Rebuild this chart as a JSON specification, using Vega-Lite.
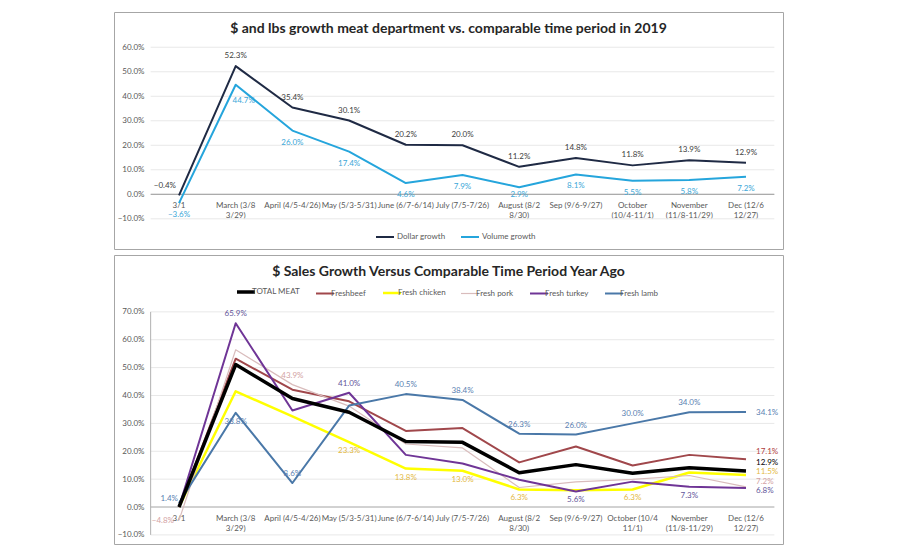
{
  "$schema": "https://vega.github.io/schema/vega-lite/v6.json",
  "background": "white",
  "padding": {"left": 113, "top": 11, "right": 0, "bottom": 0},
  "spacing": 4,
  "resolve": {
    "scale": {"x": "independent", "y": "independent", "color": "independent", "fill": "independent"},
    "legend": {"color": "independent"}
  },
  "config": {
    "font": "Lato",
    "view": {"stroke": "#a6a6a6", "strokeWidth": 1},
    "axis": {"labelFont": "Lato", "labelFontSize": 8, "labelColor": "#595959", "domain": false, "ticks": false, "tickSize": 0, "grid": false, "minExtent": 0, "labelOverlap": false},
    "legend": {"labelFont": "Lato", "labelFontSize": 8, "labelColor": "#595959", "padding": 0},
    "text": {"font": "Lato", "fontSize": 8, "baseline": "middle"}
  },
  "datasets": {
    "gridTop": [{"v": -0.1}, {"v": 0}, {"v": 0.1}, {"v": 0.2}, {"v": 0.3}, {"v": 0.4}, {"v": 0.5}, {"v": 0.6}],
    "gridBottom": [{"v": -0.1}, {"v": 0}, {"v": 0.1}, {"v": 0.2}, {"v": 0.3}, {"v": 0.4}, {"v": 0.5}, {"v": 0.6}, {"v": 0.7}],
    "growth": [
      {"period": "3/1", "series": "Dollar growth", "value": -0.004},
      {"period": "March (3/8-3/29)", "series": "Dollar growth", "value": 0.523},
      {"period": "April (4/5-4/26)", "series": "Dollar growth", "value": 0.354},
      {"period": "May (5/3-5/31)", "series": "Dollar growth", "value": 0.301},
      {"period": "June (6/7-6/14)", "series": "Dollar growth", "value": 0.202},
      {"period": "July (7/5-7/26)", "series": "Dollar growth", "value": 0.200},
      {"period": "August (8/2-8/30)", "series": "Dollar growth", "value": 0.112},
      {"period": "Sep (9/6-9/27)", "series": "Dollar growth", "value": 0.148},
      {"period": "October (10/4-11/1)", "series": "Dollar growth", "value": 0.118},
      {"period": "November (11/8-11/29)", "series": "Dollar growth", "value": 0.139},
      {"period": "Dec (12/6-12/27)", "series": "Dollar growth", "value": 0.129},
      {"period": "3/1", "series": "Volume growth", "value": -0.036},
      {"period": "March (3/8-3/29)", "series": "Volume growth", "value": 0.447},
      {"period": "April (4/5-4/26)", "series": "Volume growth", "value": 0.260},
      {"period": "May (5/3-5/31)", "series": "Volume growth", "value": 0.174},
      {"period": "June (6/7-6/14)", "series": "Volume growth", "value": 0.046},
      {"period": "July (7/5-7/26)", "series": "Volume growth", "value": 0.079},
      {"period": "August (8/2-8/30)", "series": "Volume growth", "value": 0.029},
      {"period": "Sep (9/6-9/27)", "series": "Volume growth", "value": 0.081},
      {"period": "October (10/4-11/1)", "series": "Volume growth", "value": 0.055},
      {"period": "November (11/8-11/29)", "series": "Volume growth", "value": 0.058},
      {"period": "Dec (12/6-12/27)", "series": "Volume growth", "value": 0.072}
    ],
    "meat": [
      {"period": "3/1", "series": "Freshbeef", "value": 0.0},
      {"period": "March (3/8-3/29)", "series": "Freshbeef", "value": 0.532},
      {"period": "April (4/5-4/26)", "series": "Freshbeef", "value": 0.421},
      {"period": "May (5/3-5/31)", "series": "Freshbeef", "value": 0.379},
      {"period": "June (6/7-6/14)", "series": "Freshbeef", "value": 0.273},
      {"period": "July (7/5-7/26)", "series": "Freshbeef", "value": 0.283},
      {"period": "August (8/2-8/30)", "series": "Freshbeef", "value": 0.160},
      {"period": "Sep (9/6-9/27)", "series": "Freshbeef", "value": 0.217},
      {"period": "October (10/4-11/1)", "series": "Freshbeef", "value": 0.149},
      {"period": "November (11/8-11/29)", "series": "Freshbeef", "value": 0.187},
      {"period": "Dec (12/6-12/27)", "series": "Freshbeef", "value": 0.171},
      {"period": "3/1", "series": "Fresh chicken", "value": 0.0},
      {"period": "March (3/8-3/29)", "series": "Fresh chicken", "value": 0.415},
      {"period": "April (4/5-4/26)", "series": "Fresh chicken", "value": 0.325},
      {"period": "May (5/3-5/31)", "series": "Fresh chicken", "value": 0.233},
      {"period": "June (6/7-6/14)", "series": "Fresh chicken", "value": 0.138},
      {"period": "July (7/5-7/26)", "series": "Fresh chicken", "value": 0.130},
      {"period": "August (8/2-8/30)", "series": "Fresh chicken", "value": 0.063},
      {"period": "Sep (9/6-9/27)", "series": "Fresh chicken", "value": 0.060},
      {"period": "October (10/4-11/1)", "series": "Fresh chicken", "value": 0.063},
      {"period": "November (11/8-11/29)", "series": "Fresh chicken", "value": 0.124},
      {"period": "Dec (12/6-12/27)", "series": "Fresh chicken", "value": 0.115},
      {"period": "3/1", "series": "Fresh pork", "value": -0.048},
      {"period": "March (3/8-3/29)", "series": "Fresh pork", "value": 0.564},
      {"period": "April (4/5-4/26)", "series": "Fresh pork", "value": 0.439},
      {"period": "May (5/3-5/31)", "series": "Fresh pork", "value": 0.362},
      {"period": "June (6/7-6/14)", "series": "Fresh pork", "value": 0.226},
      {"period": "July (7/5-7/26)", "series": "Fresh pork", "value": 0.212},
      {"period": "August (8/2-8/30)", "series": "Fresh pork", "value": 0.070},
      {"period": "Sep (9/6-9/27)", "series": "Fresh pork", "value": 0.090},
      {"period": "October (10/4-11/1)", "series": "Fresh pork", "value": 0.099},
      {"period": "November (11/8-11/29)", "series": "Fresh pork", "value": 0.113},
      {"period": "Dec (12/6-12/27)", "series": "Fresh pork", "value": 0.072},
      {"period": "3/1", "series": "Fresh turkey", "value": 0.0},
      {"period": "March (3/8-3/29)", "series": "Fresh turkey", "value": 0.659},
      {"period": "April (4/5-4/26)", "series": "Fresh turkey", "value": 0.346},
      {"period": "May (5/3-5/31)", "series": "Fresh turkey", "value": 0.410},
      {"period": "June (6/7-6/14)", "series": "Fresh turkey", "value": 0.187},
      {"period": "July (7/5-7/26)", "series": "Fresh turkey", "value": 0.156},
      {"period": "August (8/2-8/30)", "series": "Fresh turkey", "value": 0.098},
      {"period": "Sep (9/6-9/27)", "series": "Fresh turkey", "value": 0.056},
      {"period": "October (10/4-11/1)", "series": "Fresh turkey", "value": 0.091},
      {"period": "November (11/8-11/29)", "series": "Fresh turkey", "value": 0.073},
      {"period": "Dec (12/6-12/27)", "series": "Fresh turkey", "value": 0.068},
      {"period": "3/1", "series": "Fresh lamb", "value": 0.014},
      {"period": "March (3/8-3/29)", "series": "Fresh lamb", "value": 0.338},
      {"period": "April (4/5-4/26)", "series": "Fresh lamb", "value": 0.086},
      {"period": "May (5/3-5/31)", "series": "Fresh lamb", "value": 0.364},
      {"period": "June (6/7-6/14)", "series": "Fresh lamb", "value": 0.405},
      {"period": "July (7/5-7/26)", "series": "Fresh lamb", "value": 0.384},
      {"period": "August (8/2-8/30)", "series": "Fresh lamb", "value": 0.263},
      {"period": "Sep (9/6-9/27)", "series": "Fresh lamb", "value": 0.260},
      {"period": "October (10/4-11/1)", "series": "Fresh lamb", "value": 0.300},
      {"period": "November (11/8-11/29)", "series": "Fresh lamb", "value": 0.340},
      {"period": "Dec (12/6-12/27)", "series": "Fresh lamb", "value": 0.341},
      {"period": "3/1", "series": "TOTAL MEAT", "value": 0.0},
      {"period": "March (3/8-3/29)", "series": "TOTAL MEAT", "value": 0.511},
      {"period": "April (4/5-4/26)", "series": "TOTAL MEAT", "value": 0.389},
      {"period": "May (5/3-5/31)", "series": "TOTAL MEAT", "value": 0.340},
      {"period": "June (6/7-6/14)", "series": "TOTAL MEAT", "value": 0.235},
      {"period": "July (7/5-7/26)", "series": "TOTAL MEAT", "value": 0.232},
      {"period": "August (8/2-8/30)", "series": "TOTAL MEAT", "value": 0.123},
      {"period": "Sep (9/6-9/27)", "series": "TOTAL MEAT", "value": 0.152},
      {"period": "October (10/4-11/1)", "series": "TOTAL MEAT", "value": 0.121},
      {"period": "November (11/8-11/29)", "series": "TOTAL MEAT", "value": 0.141},
      {"period": "Dec (12/6-12/27)", "series": "TOTAL MEAT", "value": 0.129}
    ]
  },
  "vconcat": [
    {
      "width": 669,
      "height": 237,
      "title": {"text": "$ and lbs growth meat department vs. comparable time period in 2019", "fontSize": 14, "fontWeight": "bold", "color": "#262626", "offset": -24, "frame": "group", "anchor": "middle"},
      "layer": [
        {
          "data": {"name": "gridTop"},
          "mark": {"type": "rule", "color": "#e8e8e8", "strokeWidth": 1},
          "encoding": {
            "x": {"datum": "3/1", "type": "nominal", "bandPosition": 0, "title": null,
              "scale": {"type": "band", "domain": ["3/1", "March (3/8-3/29)", "April (4/5-4/26)", "May (5/3-5/31)", "June (6/7-6/14)", "July (7/5-7/26)", "August (8/2-8/30)", "Sep (9/6-9/27)", "October (10/4-11/1)", "November (11/8-11/29)", "Dec (12/6-12/27)"], "paddingInner": 0, "paddingOuter": 0.3995, "align": 0.809},
              "axis": {"offset": -54.7, "labelPadding": 7, "labelAngle": 0, "labelOverlap": false, "labelLineHeight": 10.5,
                "labelExpr": "datum.value === 'March (3/8-3/29)' ? ['March (3/8', '3/29)'] : datum.value === 'August (8/2-8/30)' ? ['August (8/2', '8/30)'] : datum.value === 'October (10/4-11/1)' ? ['October', '(10/4-11/1)'] : datum.value === 'November (11/8-11/29)' ? ['November', '(11/8-11/29)'] : datum.value === 'Dec (12/6-12/27)' ? ['Dec (12/6', '12/27)'] : datum.value"}},
            "x2": {"datum": "Dec (12/6-12/27)", "bandPosition": 1},
            "y": {"field": "v", "type": "quantitative", "title": null,
              "scale": {"domain": [-0.2232, 0.7438], "nice": false, "zero": false},
              "axis": {"values": [-0.1, 0, 0.1, 0.2, 0.3, 0.4, 0.5, 0.6], "tickCount": 20, "format": ".1%", "offset": -30, "labelPadding": 0, "labelOverlap": false}}
          }
        },
        {
          "data": {"name": "gridTop"},
          "transform": [{"filter": "datum.v === 0"}],
          "mark": {"type": "rule", "color": "#9a9a9a", "strokeWidth": 1},
          "encoding": {
            "x": {"datum": "3/1", "type": "nominal", "bandPosition": 0, "title": null},
            "x2": {"datum": "Dec (12/6-12/27)", "bandPosition": 1},
            "y": {"field": "v", "type": "quantitative", "title": null}
          }
        },
        {
          "data": {"name": "growth"},
          "mark": {"type": "line", "strokeWidth": 2, "strokeJoin": "round"},
          "encoding": {
            "x": {"field": "period", "type": "nominal", "bandPosition": 0.5, "title": null},
            "y": {"field": "value", "type": "quantitative", "title": null},
            "color": {"field": "series", "type": "nominal",
              "scale": {"domain": ["Dollar growth", "Volume growth"], "range": ["#1f2a44", "#25a5dc"]},
              "legend": {"orient": "none", "legendX": 261, "legendY": 215, "direction": "horizontal", "title": null, "symbolType": "stroke", "symbolSize": 324, "symbolStrokeWidth": 2, "labelOffset": 2, "columnPadding": 11}}
          }
        },
        {
          "data": {"name": "growth"},
          "transform": [{"filter": "datum.series === 'Dollar growth' && datum.period !== '3/1'"}],
          "mark": {"type": "text", "dy": -10, "color": "#404040"},
          "encoding": {
            "x": {"field": "period", "type": "nominal", "bandPosition": 0.5, "title": null},
            "y": {"field": "value", "type": "quantitative", "title": null},
            "text": {"field": "value", "type": "quantitative", "format": ".1%"}
          }
        },
        {
          "data": {"name": "growth"},
          "transform": [{"filter": "datum.series === 'Dollar growth' && datum.period === '3/1'"}],
          "mark": {"type": "text", "dy": -9, "dx": -3, "align": "right", "color": "#404040"},
          "encoding": {
            "x": {"field": "period", "type": "nominal", "bandPosition": 0.5, "title": null},
            "y": {"field": "value", "type": "quantitative", "title": null},
            "text": {"field": "value", "type": "quantitative", "format": ".1%"}
          }
        },
        {
          "data": {"name": "growth"},
          "transform": [{"filter": "datum.series === 'Volume growth' && datum.period !== 'March (3/8-3/29)' && datum.period !== 'August (8/2-8/30)'"}],
          "mark": {"type": "text", "dy": 12, "color": "#3ba7d8"},
          "encoding": {
            "x": {"field": "period", "type": "nominal", "bandPosition": 0.5, "title": null},
            "y": {"field": "value", "type": "quantitative", "title": null},
            "text": {"field": "value", "type": "quantitative", "format": ".1%"}
          }
        },
        {
          "data": {"name": "growth"},
          "transform": [{"filter": "datum.series === 'Volume growth' && datum.period === 'August (8/2-8/30)'"}],
          "mark": {"type": "text", "dy": 8, "color": "#3ba7d8"},
          "encoding": {
            "x": {"field": "period", "type": "nominal", "bandPosition": 0.5, "title": null},
            "y": {"field": "value", "type": "quantitative", "title": null},
            "text": {"field": "value", "type": "quantitative", "format": ".1%"}
          }
        },
        {
          "data": {"name": "growth"},
          "transform": [{"filter": "datum.series === 'Volume growth' && datum.period === 'March (3/8-3/29)'"}],
          "mark": {"type": "text", "dy": 16, "dx": 8, "color": "#3ba7d8"},
          "encoding": {
            "x": {"field": "period", "type": "nominal", "bandPosition": 0.5, "title": null},
            "y": {"field": "value", "type": "quantitative", "title": null},
            "text": {"field": "value", "type": "quantitative", "format": ".1%"}
          }
        }
      ]
    },
    {
      "width": 669,
      "height": 289,
      "title": {"text": "$ Sales Growth Versus Comparable Time Period Year Ago", "fontSize": 14, "fontWeight": "bold", "color": "#262626", "offset": -24, "frame": "group", "anchor": "middle"},
      "layer": [
        {
          "data": {"name": "gridBottom"},
          "mark": {"type": "rule", "color": "#e8e8e8", "strokeWidth": 1},
          "encoding": {
            "x": {"datum": "3/1", "type": "nominal", "bandPosition": 0, "title": null,
              "scale": {"type": "band", "domain": ["3/1", "March (3/8-3/29)", "April (4/5-4/26)", "May (5/3-5/31)", "June (6/7-6/14)", "July (7/5-7/26)", "August (8/2-8/30)", "Sep (9/6-9/27)", "October (10/4-11/1)", "November (11/8-11/29)", "Dec (12/6-12/27)"], "paddingInner": 0, "paddingOuter": 0.3995, "align": 0.809},
              "axis": {"offset": -37, "labelPadding": 7, "labelAngle": 0, "labelOverlap": false, "labelLineHeight": 10.5,
                "labelExpr": "datum.value === 'March (3/8-3/29)' ? ['March (3/8', '3/29)'] : datum.value === 'August (8/2-8/30)' ? ['August (8/2', '8/30)'] : datum.value === 'October (10/4-11/1)' ? ['October (10/4', '11/1)'] : datum.value === 'November (11/8-11/29)' ? ['November', '(11/8-11/29)'] : datum.value === 'Dec (12/6-12/27)' ? ['Dec (12/6', '12/27)'] : datum.value"}},
            "x2": {"datum": "Dec (12/6-12/27)", "bandPosition": 1},
            "y": {"field": "v", "type": "quantitative", "title": null,
              "scale": {"domain": [-0.1327, 0.904], "nice": false, "zero": false},
              "axis": {"values": [-0.1, 0, 0.1, 0.2, 0.3, 0.4, 0.5, 0.6, 0.7], "tickCount": 20, "format": ".1%", "offset": -30, "labelPadding": 0, "labelOverlap": false}}
          }
        },
        {
          "data": {"name": "gridBottom"},
          "transform": [{"filter": "datum.v === 0"}],
          "mark": {"type": "rule", "color": "#b0b0b0", "strokeWidth": 1},
          "encoding": {
            "x": {"datum": "3/1", "type": "nominal", "bandPosition": 0, "title": null},
            "x2": {"datum": "Dec (12/6-12/27)", "bandPosition": 1},
            "y": {"field": "v", "type": "quantitative", "title": null}
          }
        },
        {
          "data": {"name": "gridBottom"},
          "transform": [{"filter": "datum.v === 0"}],
          "mark": {"type": "rule", "color": "#b0b0b0", "strokeWidth": 1},
          "encoding": {
            "x": {"datum": "3/1", "type": "nominal", "bandPosition": 0, "title": null},
            "y": {"datum": -0.1, "type": "quantitative", "title": null},
            "y2": {"datum": 0.7}
          }
        },
        {
          "data": {"name": "meat"},
          "mark": {"type": "line", "strokeJoin": "round"},
          "encoding": {
            "x": {"field": "period", "type": "nominal", "bandPosition": 0.5, "title": null},
            "y": {"field": "value", "type": "quantitative", "title": null},
            "color": {"field": "series", "type": "nominal",
              "scale": {"domain": ["TOTAL MEAT", "Freshbeef", "Fresh chicken", "Fresh pork", "Fresh turkey", "Fresh lamb"], "range": ["#000000", "#a0474b", "#ffff00", "#d9bcbc", "#6f3596", "#4a78a8"]},
              "legend": {"orient": "none", "legendX": 128, "legendY": 33, "direction": "horizontal", "title": null, "symbolType": "stroke", "symbolSize": 324, "symbolStrokeWidth": 2, "labelOffset": 2, "columnPadding": 12,
                "encode": {"symbols": {"update": {"strokeWidth": {"signal": "datum.value === 'TOTAL MEAT' ? 3.5 : datum.value === 'Fresh pork' ? 1.2 : datum.value === 'Fresh chicken' ? 2.5 : 2"}}}}}},
            "strokeWidth": {"condition": [{"test": "datum.series === 'TOTAL MEAT'", "value": 3.5}, {"test": "datum.series === 'Fresh pork'", "value": 1.2}, {"test": "datum.series === 'Fresh chicken'", "value": 2.5}], "value": 2}
          }
        },
        {
          "data": {"name": "meat"},
          "transform": [{"filter": "(datum.series === 'Fresh lamb' && indexof(['April (4/5-4/26)', 'June (6/7-6/14)', 'July (7/5-7/26)', 'August (8/2-8/30)', 'Sep (9/6-9/27)', 'October (10/4-11/1)', 'November (11/8-11/29)'], datum.period) >= 0) || (datum.series === 'Fresh turkey' && indexof(['March (3/8-3/29)', 'May (5/3-5/31)'], datum.period) >= 0) || (datum.series === 'Fresh pork' && datum.period === 'April (4/5-4/26)')"}],
          "mark": {"type": "text", "dy": -9},
          "encoding": {
            "x": {"field": "period", "type": "nominal", "bandPosition": 0.5, "title": null},
            "y": {"field": "value", "type": "quantitative", "title": null},
            "text": {"field": "value", "type": "quantitative", "format": ".1%"},
            "fill": {"field": "series", "type": "nominal", "legend": null,
              "scale": {"domain": ["TOTAL MEAT", "Freshbeef", "Fresh chicken", "Fresh pork", "Fresh turkey", "Fresh lamb"], "range": ["#000000", "#b0413e", "#e3b93f", "#d3a3a3", "#62559a", "#5b7fb2"]}}
          }
        },
        {
          "data": {"name": "meat"},
          "transform": [{"filter": "(datum.series === 'Fresh lamb' && datum.period === 'March (3/8-3/29)') || (datum.series === 'Fresh turkey' && indexof(['Sep (9/6-9/27)', 'November (11/8-11/29)'], datum.period) >= 0) || (datum.series === 'Fresh chicken' && indexof(['May (5/3-5/31)', 'June (6/7-6/14)', 'July (7/5-7/26)', 'August (8/2-8/30)', 'October (10/4-11/1)'], datum.period) >= 0)"}],
          "mark": {"type": "text", "dy": 9},
          "encoding": {
            "x": {"field": "period", "type": "nominal", "bandPosition": 0.5, "title": null},
            "y": {"field": "value", "type": "quantitative", "title": null},
            "text": {"field": "value", "type": "quantitative", "format": ".1%"},
            "fill": {"field": "series", "type": "nominal", "legend": null}
          }
        },
        {
          "data": {"name": "meat"},
          "transform": [{"filter": "datum.series === 'Fresh lamb' && datum.period === '3/1'"}],
          "mark": {"type": "text", "align": "right", "dx": -1, "dy": -4},
          "encoding": {
            "x": {"field": "period", "type": "nominal", "bandPosition": 0.5, "title": null},
            "y": {"field": "value", "type": "quantitative", "title": null},
            "text": {"field": "value", "type": "quantitative", "format": ".1%"},
            "fill": {"field": "series", "type": "nominal", "legend": null}
          }
        },
        {
          "data": {"name": "meat"},
          "transform": [{"filter": "datum.series === 'Fresh pork' && datum.period === '3/1'"}],
          "mark": {"type": "text", "align": "right", "dx": -5, "dy": 1},
          "encoding": {
            "x": {"field": "period", "type": "nominal", "bandPosition": 0.5, "title": null},
            "y": {"field": "value", "type": "quantitative", "title": null},
            "text": {"field": "value", "type": "quantitative", "format": ".1%"},
            "fill": {"field": "series", "type": "nominal", "legend": null}
          }
        },
        {
          "data": {"name": "meat"},
          "transform": [{"filter": "datum.series === 'Fresh lamb' && datum.period === 'Dec (12/6-12/27)'"}],
          "mark": {"type": "text", "align": "left", "dx": 10, "dy": 1},
          "encoding": {
            "x": {"field": "period", "type": "nominal", "bandPosition": 0.5, "title": null},
            "y": {"field": "value", "type": "quantitative", "title": null},
            "text": {"field": "value", "type": "quantitative", "format": ".1%"},
            "fill": {"field": "series", "type": "nominal", "legend": null}
          }
        },
        {
          "data": {"name": "meat"},
          "transform": [{"filter": "datum.series === 'Freshbeef' && datum.period === 'Dec (12/6-12/27)'"}],
          "mark": {"type": "text", "align": "left", "dx": 10, "dy": -7},
          "encoding": {
            "x": {"field": "period", "type": "nominal", "bandPosition": 0.5, "title": null},
            "y": {"field": "value", "type": "quantitative", "title": null},
            "text": {"field": "value", "type": "quantitative", "format": ".1%"},
            "fill": {"field": "series", "type": "nominal", "legend": null}
          }
        },
        {
          "data": {"name": "meat"},
          "transform": [{"filter": "datum.series === 'TOTAL MEAT' && datum.period === 'Dec (12/6-12/27)'"}],
          "mark": {"type": "text", "align": "left", "dx": 10, "dy": -8},
          "encoding": {
            "x": {"field": "period", "type": "nominal", "bandPosition": 0.5, "title": null},
            "y": {"field": "value", "type": "quantitative", "title": null},
            "text": {"field": "value", "type": "quantitative", "format": ".1%"},
            "fill": {"field": "series", "type": "nominal", "legend": null}
          }
        },
        {
          "data": {"name": "meat"},
          "transform": [{"filter": "datum.series === 'Fresh chicken' && datum.period === 'Dec (12/6-12/27)'"}],
          "mark": {"type": "text", "align": "left", "dx": 10, "dy": -3},
          "encoding": {
            "x": {"field": "period", "type": "nominal", "bandPosition": 0.5, "title": null},
            "y": {"field": "value", "type": "quantitative", "title": null},
            "text": {"field": "value", "type": "quantitative", "format": ".1%"},
            "fill": {"field": "series", "type": "nominal", "legend": null}
          }
        },
        {
          "data": {"name": "meat"},
          "transform": [{"filter": "datum.series === 'Fresh pork' && datum.period === 'Dec (12/6-12/27)'"}],
          "mark": {"type": "text", "align": "left", "dx": 10, "dy": -5},
          "encoding": {
            "x": {"field": "period", "type": "nominal", "bandPosition": 0.5, "title": null},
            "y": {"field": "value", "type": "quantitative", "title": null},
            "text": {"field": "value", "type": "quantitative", "format": ".1%"},
            "fill": {"field": "series", "type": "nominal", "legend": null}
          }
        },
        {
          "data": {"name": "meat"},
          "transform": [{"filter": "datum.series === 'Fresh turkey' && datum.period === 'Dec (12/6-12/27)'"}],
          "mark": {"type": "text", "align": "left", "dx": 10, "dy": 3},
          "encoding": {
            "x": {"field": "period", "type": "nominal", "bandPosition": 0.5, "title": null},
            "y": {"field": "value", "type": "quantitative", "title": null},
            "text": {"field": "value", "type": "quantitative", "format": ".1%"},
            "fill": {"field": "series", "type": "nominal", "legend": null}
          }
        }
      ]
    }
  ]
}
